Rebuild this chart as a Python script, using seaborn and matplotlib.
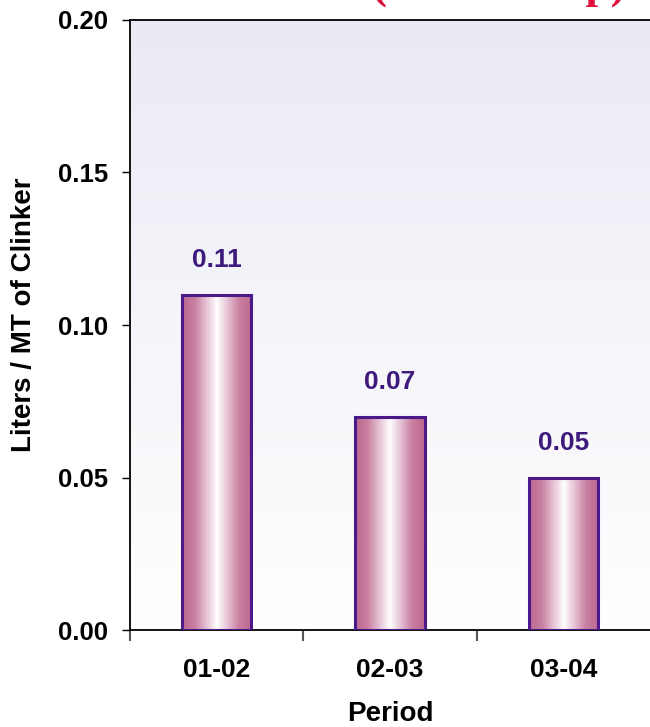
import numpy as np
import pandas as pd
import matplotlib
matplotlib.use("Agg")
import matplotlib.pyplot as plt
import seaborn as sns
from matplotlib.colors import LinearSegmentedColormap

# Data
periods = ["01-02", "02-03", "03-04"]
consumption = [0.11, 0.07, 0.05]
y_ticks = [0.00, 0.05, 0.10, 0.15, 0.20]

df = pd.DataFrame({"Period": periods, "Consumption": consumption})

sns.set_theme(style="white")
plt.rcParams["font.family"] = ["Liberation Sans", "DejaVu Sans"]
plt.rcParams["font.weight"] = "bold"
plt.rcParams["text.color"] = "black"
plt.rcParams["axes.labelcolor"] = "black"
plt.rcParams["xtick.color"] = "black"
plt.rcParams["ytick.color"] = "black"

fig = plt.figure(figsize=(6.5, 7.27), dpi=100)
ax = fig.add_axes([0.2, 0.1334, 0.8, 0.8391])

edge_col = "#4A1A8A"
label_col = "#3D1A7C"

sns.barplot(data=df, x="Period", y="Consumption", width=0.4,
            color="white", edgecolor=edge_col, linewidth=2.2,
            ax=ax, zorder=3)

ax.set_ylim(0, 0.20)
ax.set_xlim(-0.5, 2.5)

# Soft lavender-to-white backdrop
bg = np.linspace(0, 1, 256).reshape(-1, 1)
bg_cmap = LinearSegmentedColormap.from_list("bg", ["#FFFFFF", "#EAEAF5"])
ax.imshow(bg, cmap=bg_cmap, aspect="auto", origin="lower",
          extent=[-0.5, 2.5, 0, 0.20], zorder=0)

# Cylinder-like shading on each bar
shade = np.abs(np.linspace(-1, 1, 256)).reshape(1, -1) ** 0.9
bar_cmap = LinearSegmentedColormap.from_list(
    "bar", ["#FFFFFF", "#E6C3D6", "#C9809F", "#BC6790"])
for patch in ax.patches:
    x0, y0 = patch.get_x(), patch.get_y()
    w, h = patch.get_width(), patch.get_height()
    im = ax.imshow(shade, cmap=bar_cmap, aspect="auto",
                   extent=[x0, x0 + w, y0, y0 + h], zorder=2,
                   interpolation="bilinear")
    im.set_clip_path(patch)
    patch.set_facecolor("none")

for i, v in enumerate(consumption):
    ax.text(i, v + 0.0075, f"{v:.2f}", ha="center", va="bottom",
            fontsize=19, fontweight="bold", color=label_col, zorder=4)

ax.set_yticks(y_ticks)
ax.set_yticklabels([f"{t:.2f}" for t in y_ticks])
ax.set_xticks([0, 1, 2])
ax.set_xticklabels(periods)
ax.tick_params(axis="y", which="major", left=True, direction="out",
               length=6, width=1, color="black", labelsize=18.5, pad=10)
ax.tick_params(axis="x", which="major", bottom=False, length=0,
               labelsize=19, pad=20)
ax.set_xticks([-0.5, 0.5, 1.5], minor=True)
ax.tick_params(axis="x", which="minor", bottom=True, direction="out",
               length=8, width=1.5, color="#555555")

for lbl in ax.get_xticklabels() + ax.get_yticklabels():
    lbl.set_fontweight("bold")
    lbl.set_color("black")

ax.set_xlabel("Period", fontsize=20, fontweight="bold", labelpad=14,
              color="black")
ax.set_ylabel("Liters / MT of Clinker", fontsize=20, fontweight="bold",
              color="black")
ax.yaxis.set_label_coords(-0.178, 0.516)

for side in ["left", "bottom", "top"]:
    ax.spines[side].set_visible(True)
    ax.spines[side].set_color("black")
    ax.spines[side].set_linewidth(1.3)
ax.spines["right"].set_visible(False)

# Heading sits above the frame, mostly beyond the top edge
fig.text(0.963, 1.004, "(Kiln Group)", ha="right", va="baseline",
         fontsize=32.5, fontweight="bold", color="#E0103A",
         family=["Liberation Serif", "DejaVu Serif"])

fig.savefig("out.png", dpi=100)
